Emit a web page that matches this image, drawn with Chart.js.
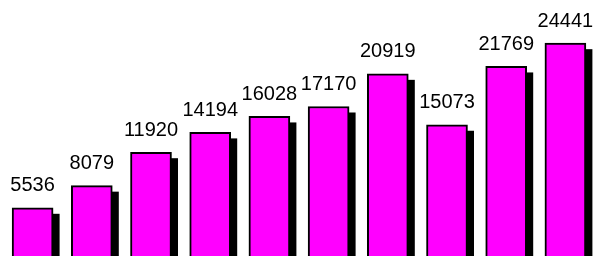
<!DOCTYPE html>
<html lang="en">
<head>
  <meta charset="UTF-8">
  <title>Bar chart</title>
  <script src="https://cdn.jsdelivr.net/npm/chart.js"></script>
  <style>
    html, body { margin: 0; padding: 0; background: #fff; overflow: hidden; }
    #wrap { width: 595px; height: 256px; }
  </style>
</head>
<body>
  <div id="wrap"><canvas id="barChart"></canvas></div>
  <script>
    // Chart data
    const categories = ['1', '2', '3', '4', '5', '6', '7', '8', '9', '10'];
    const values = [5536, 8079, 11920, 14194, 16028, 17170, 20919, 15073, 21769, 24441];

    // Black drop shadow behind each bar
    const shadowPlugin = {
      id: 'shadow',
      beforeDatasetsDraw(chart) {
        const ctx = chart.ctx;
        const meta = chart.getDatasetMeta(0);
        ctx.save();
        ctx.fillStyle = '#000';
        meta.data.forEach(bar => {
          const w = bar.width;
          ctx.fillRect(bar.x - w / 2 + 6.5, bar.y + 6, w, bar.base - bar.y);
        });
        ctx.restore();
      }
    };

    // Value labels above bars
    const labelPlugin = {
      id: 'valueLabels',
      afterDatasetsDraw(chart) {
        const ctx = chart.ctx;
        const meta = chart.getDatasetMeta(0);
        ctx.save();
        ctx.fillStyle = '#000';
        ctx.font = '20px "Liberation Sans", Arial, sans-serif';
        ctx.textAlign = 'center';
        ctx.textBaseline = 'alphabetic';
        meta.data.forEach((bar, i) => {
          ctx.fillText(String(values[i]), bar.x, bar.y - 16.5);
        });
        ctx.restore();
      }
    };

    new Chart(document.getElementById('barChart').getContext('2d'), {
      type: 'bar',
      data: {
        labels: categories,
        datasets: [{
          data: values,
          backgroundColor: '#ff00ff',
          borderColor: '#000',
          borderWidth: 2,
          borderSkipped: 'bottom',
          barThickness: 41
        }]
      },
      options: {
        responsive: true,
        maintainAspectRatio: false,
        animation: false,
        events: [],
        layout: { padding: { left: 3, right: 0, top: 0, bottom: 0 } },
        plugins: {
          legend: { display: false },
          tooltip: { enabled: false }
        },
        scales: {
          x: { display: false },
          y: { display: false, min: 0, max: 29400 }
        }
      },
      plugins: [shadowPlugin, labelPlugin]
    });
  </script>
</body>
</html>
